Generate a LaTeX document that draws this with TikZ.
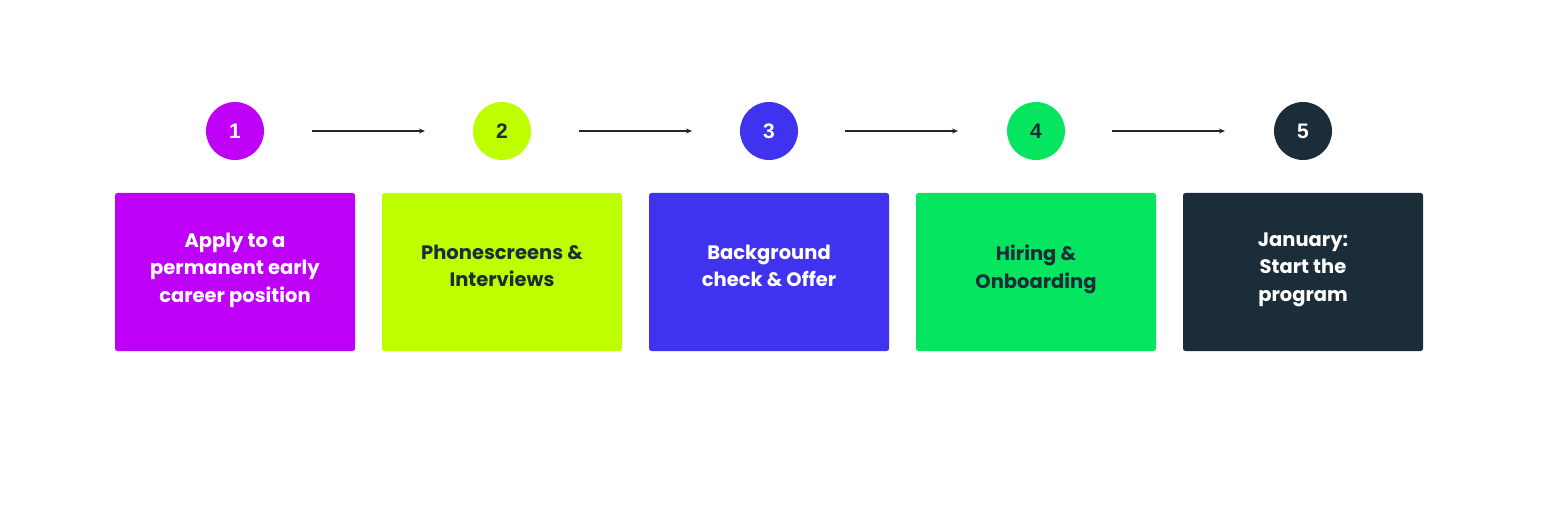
\documentclass[tikz,border=0pt]{standalone}
\usepackage{fontspec}
\setmainfont{Poppins}[BoldFont={* Bold}]
\newfontfamily\numfont{Liberation Sans}
\usetikzlibrary{arrows.meta}
\definecolor{cpurple}{HTML}{BF00F7}
\definecolor{clime}{HTML}{BDFF00}
\definecolor{cblue}{HTML}{3F33F0}
\definecolor{cgreen}{HTML}{05E55F}
\definecolor{cdark}{HTML}{1B2D38}
\tikzset{
  stepnum/.style={circle, minimum size=58pt, inner sep=0pt, font=\numfont\bfseries\fontsize{21}{24}\selectfont},
  stepbox/.style={rectangle, rounded corners=2.5pt, minimum width=240pt, minimum height=158pt, inner sep=0pt},
  steptext/.style={align=center, inner sep=0pt, font=\bfseries\fontsize{19.5}{27.5}\selectfont},
  flow/.style={draw=black!85, line width=1.3pt, -{Stealth[length=6pt,width=5pt]}}
}
\begin{document}
\begin{tikzpicture}[x=1pt,y=-1pt]
\useasboundingbox (0,0) rectangle (1560,513);
\fill[white] (0,0) rectangle (1560,513);
% circles
\node[stepnum, fill=cpurple, text=white] (c1) at (235,131) {1};
\node[stepnum, fill=clime, text=cdark] (c2) at (502,131) {2};
\node[stepnum, fill=cblue, text=white] (c3) at (769,131) {3};
\node[stepnum, fill=cgreen, text=cdark] (c4) at (1036,131) {4};
\node[stepnum, fill=cdark, text=white] (c5) at (1303,131) {5};
% boxes
\node[stepbox, fill=cpurple] (b1) at (235,272) {};
\node[stepbox, fill=clime] (b2) at (502,272) {};
\node[stepbox, fill=cblue] (b3) at (769,272) {};
\node[stepbox, fill=cgreen] (b4) at (1036,272) {};
\node[stepbox, fill=cdark] (b5) at (1303,272) {};
% texts
\node[steptext, text=white] (t1) at (235,270) {Apply to a\\permanent early\\career position};
\node[steptext, text=cdark] (t2) at (502,266) {Phonescreens \&\\Interviews};
\node[steptext, text=white] (t3) at (769,266) {Background\\check \& Offer};
\node[steptext, text=cdark] (t4) at (1036,269.5) {Hiring \&\\Onboarding};
\node[steptext, text=white] (t5) at (1303,269.5) {January:\\Start the\\program};
% arrows
\coordinate (a1s) at (312,131); \coordinate (a1e) at (425,131);
\coordinate (a2s) at (579,131); \coordinate (a2e) at (692,131);
\coordinate (a3s) at (845,131); \coordinate (a3e) at (958,131);
\coordinate (a4s) at (1112,131); \coordinate (a4e) at (1225,131);
\draw[flow] (a1s) -- (a1e);
\draw[flow] (a2s) -- (a2e);
\draw[flow] (a3s) -- (a3e);
\draw[flow] (a4s) -- (a4e);
\end{tikzpicture}
\end{document}
